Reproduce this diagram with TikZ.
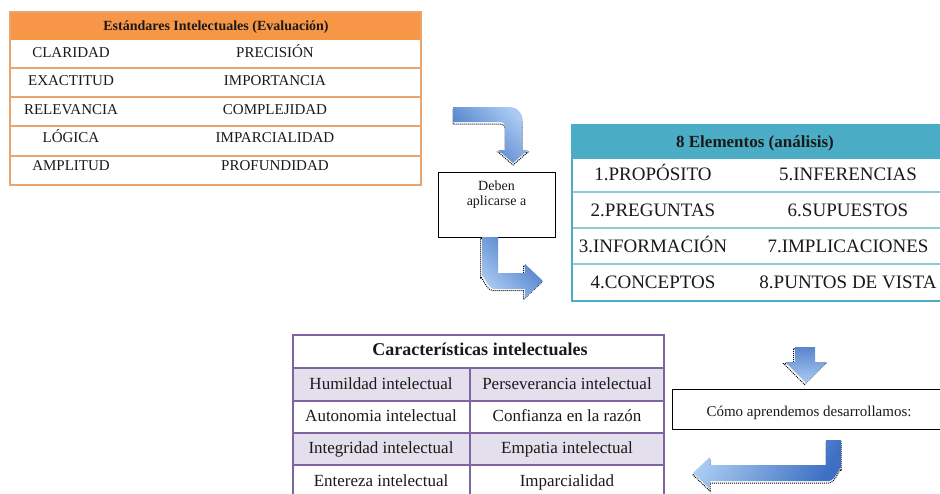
\documentclass[tikz,border=0pt]{standalone}
\usepackage{fontspec}
\setmainfont{Liberation Serif}
\usetikzlibrary{calc}
\definecolor{orhead}{HTML}{F79646}
\definecolor{orline}{HTML}{E8A66E}
\definecolor{teal}{HTML}{4BACC6}
\definecolor{tealline}{HTML}{8FCAD9}
\definecolor{purp}{HTML}{8064A2}
\definecolor{lav}{HTML}{E4DFEC}
\definecolor{arrdark}{HTML}{3E6FC4}
\definecolor{arrlight}{HTML}{A9CBF2}
\definecolor{txt}{HTML}{1A1A1A}
\tikzset{
  fixh/.style={text height=#1, text depth=0pt, inner sep=0pt, text=txt},
  tA/.style={font=\fontsize{15}{17}\selectfont, fixh=9.9pt},
  tAh/.style={font=\bfseries\fontsize{14}{16}\selectfont, fixh=9.2pt},
  tB/.style={font=\fontsize{19}{21}\selectfont, fixh=12.5pt},
  tBh/.style={font=\bfseries\fontsize{17}{19}\selectfont, fixh=11pt},
  tC/.style={font=\fontsize{17}{19}\selectfont, fixh=10.6pt},
  tCh/.style={font=\bfseries\fontsize{18}{20}\selectfont, fixh=11.5pt},
  tbox/.style={draw=black, line width=0.9pt, fill=white},
  arrshadow/.style={draw=black, densely dotted, line width=1pt},
}
\begin{document}
\begin{tikzpicture}[x=1pt,y=-1pt]
\clip (0,0) rectangle (940,493);
\fill[white] (0,0) rectangle (940,493);

% ---------- Table 1: Estandares ----------
\fill[orhead] (10,12) rectangle (421,40);
\foreach \yy in {68,97,126,156}{
  \draw[orline, line width=2pt] (10,\yy) -- (421,\yy);
}
\draw[orline, line width=1.5pt] (10,12) rectangle (421,185);
\draw[orline, line width=2pt] (10,185) -- (421,185);
\node[tAh] (h1) at (216,26) {Estándares Intelectuales (Evaluación)};
\node[tA] (a1) at (71,53) {CLARIDAD};
\node[tA] (b1) at (275,53) {PRECISIÓN};
\node[tA] (a2) at (71,81) {EXACTITUD};
\node[tA] (b2) at (275,81) {IMPORTANCIA};
\node[tA] (a3) at (71,110) {RELEVANCIA};
\node[tA] (b3) at (275,110) {COMPLEJIDAD};
\node[tA] (a4) at (71,138) {LÓGICA};
\node[tA] (b4) at (275,138) {IMPARCIALIDAD};
\node[tA] (a5) at (71,166) {AMPLITUD};
\node[tA] (b5) at (275,166) {PROFUNDIDAD};

% ---------- Deben box ----------
\node[tbox, minimum width=117pt, minimum height=65pt] (deben) at (496.5,204.5) {};
\node[font=\fontsize{14}{15}\selectfont, text=txt, inner sep=0pt, align=center] (debt) at (496.5,195) {Deben\\aplicarse a};

% ---------- Arrow 1 ----------
\def\arrowone{(453,107) -- (510,107) to[out=0,in=90] (522,119) -- (522,150) -- (528,150) -- (513,163) -- (498,150) -- (505,150) -- (505,126) to[out=90,in=0] (501,122) -- (453,122) -- cycle}
\draw[arrshadow, shift={(0,2)}] \arrowone;
\shade[left color=arrdark, right color=arrlight, shading angle=135] \arrowone;

% ---------- Arrow 2 ----------
\def\arrowtwo{(482,237) -- (482,277) to[out=90,in=180] (494,289) -- (525,289) -- (525,298) -- (543,281) -- (525,264) -- (525,273) -- (498,273) -- (498,237) -- cycle}
\draw[arrshadow, shift={(-1.5,1.5)}] \arrowtwo;
\shade[top color=arrdark, bottom color=arrlight, shading angle=-45] \arrowtwo;

% ---------- Table 2: 8 Elementos ----------
\fill[teal] (572,125) rectangle (941,159);
\foreach \yy in {192,228,264}{
  \draw[tealline, line width=1.2pt] (572,\yy) -- (941,\yy);
}
\draw[teal, line width=1.5pt] (572,125) rectangle (941,301);
\node[tBh] (h2) at (755,142) {8 Elementos (análisis)};
\node[tB] (e1) at (653,174) {1.PROPÓSITO};
\node[tB] (e5) at (848,174) {5.INFERENCIAS};
\node[tB] (e2) at (653,210) {2.PREGUNTAS};
\node[tB] (e6) at (848,210) {6.SUPUESTOS};
\node[tB] (e3) at (653,246) {3.INFORMACIÓN};
\node[tB] (e7) at (848,246) {7.IMPLICACIONES};
\node[tB] (e4) at (653,282) {4.CONCEPTOS};
\node[tB] (e8) at (848,282) {8.PUNTOS DE VISTA};

% ---------- Table 3: Caracteristicas ----------
\fill[white] (293,335) rectangle (664,368);
\fill[lav] (293,368) rectangle (664,401);
\fill[lav] (293,433) rectangle (664,465);
\foreach \yy in {368,401,433,465}{
  \draw[purp, line width=1.3pt] (293,\yy) -- (664,\yy);
}
\draw[purp, line width=1.3pt] (470,368) -- (470,500);
\draw[purp, line width=1.6pt] (293,500) -- (293,335) -- (664,335) -- (664,500);
\node[tCh] (h3) at (480,350) {Características intelectuales};
\node[tC] (c1) at (381,384) {Humildad intelectual};
\node[tC] (d1) at (567,384) {Perseverancia intelectual};
\node[tC] (c2) at (381,416) {Autonomia intelectual};
\node[tC] (d2) at (567,416) {Confianza en la razón};
\node[tC] (c3) at (381,448) {Integridad intelectual};
\node[tC] (d3) at (567,448) {Empatia intelectual};
\node[tC] (c4) at (381,481) {Entereza intelectual};
\node[tC] (d4) at (567,481) {Imparcialidad};

% ---------- Arrow 3 (down) ----------
\def\arrowthree{(795,347) -- (815,347) -- (815,362) -- (827,362) -- (806,383) -- (785,362) -- (795,362) -- cycle}
\draw[arrshadow, shift={(-1.5,1.5)}] \arrowthree;
\shade[top color=arrdark!85, bottom color=arrlight, shading angle=0] \arrowthree;

% ---------- Como box ----------
\node[tbox, minimum width=270pt, minimum height=40pt] (como) at (807,409) {};
\node[font=\fontsize{15}{17}\selectfont, fixh=9.5pt] (comot) at (809,412) {Cómo aprendemos desarrollamos:};

% ---------- Arrow 4 ----------
\def\arrowfour{(826,440) -- (841,440) -- (841,469) to[out=90,in=0] (829,481) -- (710,481) -- (710,489) -- (693,473) -- (710,457) -- (710,465) -- (826,465) -- cycle}
\draw[arrshadow, shift={(0,2)}] \arrowfour;
\shade[left color=arrlight, right color=arrdark, shading angle=60] \arrowfour;

\end{tikzpicture}
\end{document}
